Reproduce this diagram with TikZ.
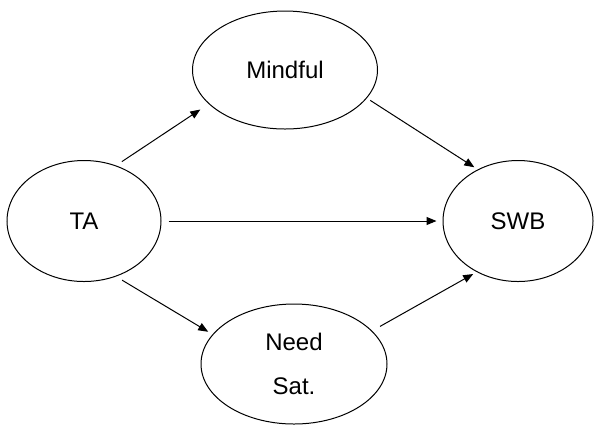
\documentclass[tikz,border=0pt]{standalone}
\usepackage{fontspec}
\setmainfont{Liberation Sans}
\usetikzlibrary{shapes.geometric,arrows.meta}
\begin{document}
\begin{tikzpicture}[x=0.5pt,y=-0.5pt,
  oval/.style={ellipse,draw,line width=0.5pt,inner sep=0pt,font=\fontsize{12pt}{22pt}\selectfont,align=center},
  conn/.style={line width=0.5pt,-{Triangle[length=5pt,width=4pt]}}]
\useasboundingbox (0,0) rectangle (594,425);
\node[oval,minimum width=77pt,minimum height=60.5pt] (TA) at (84,221) {TA};
\node[oval,minimum width=92.5pt,minimum height=59pt] (M) at (285,70) {Mindful};
\node[oval,minimum width=75pt,minimum height=60.5pt] (S) at (518,221) {SWB};
\node[oval,minimum width=93pt,minimum height=60pt] (N) at (294,364) {Need\\Sat.};
\draw[conn,shorten <=3.5pt,shorten >=5pt] (TA.60) -- (M.204);
\draw[conn,shorten <=3.5pt,shorten >=3pt] (TA.0) -- (S.180);
\draw[conn,shorten <=3.5pt,shorten >=2.5pt] (TA.300) -- (N.160);
\draw[conn,shorten <=2pt,shorten >=2pt] (M.341) -- (S.128);
\draw[conn,shorten <=4.5pt,shorten >=2pt] (N.23) -- (S.231);
\end{tikzpicture}
\end{document}
